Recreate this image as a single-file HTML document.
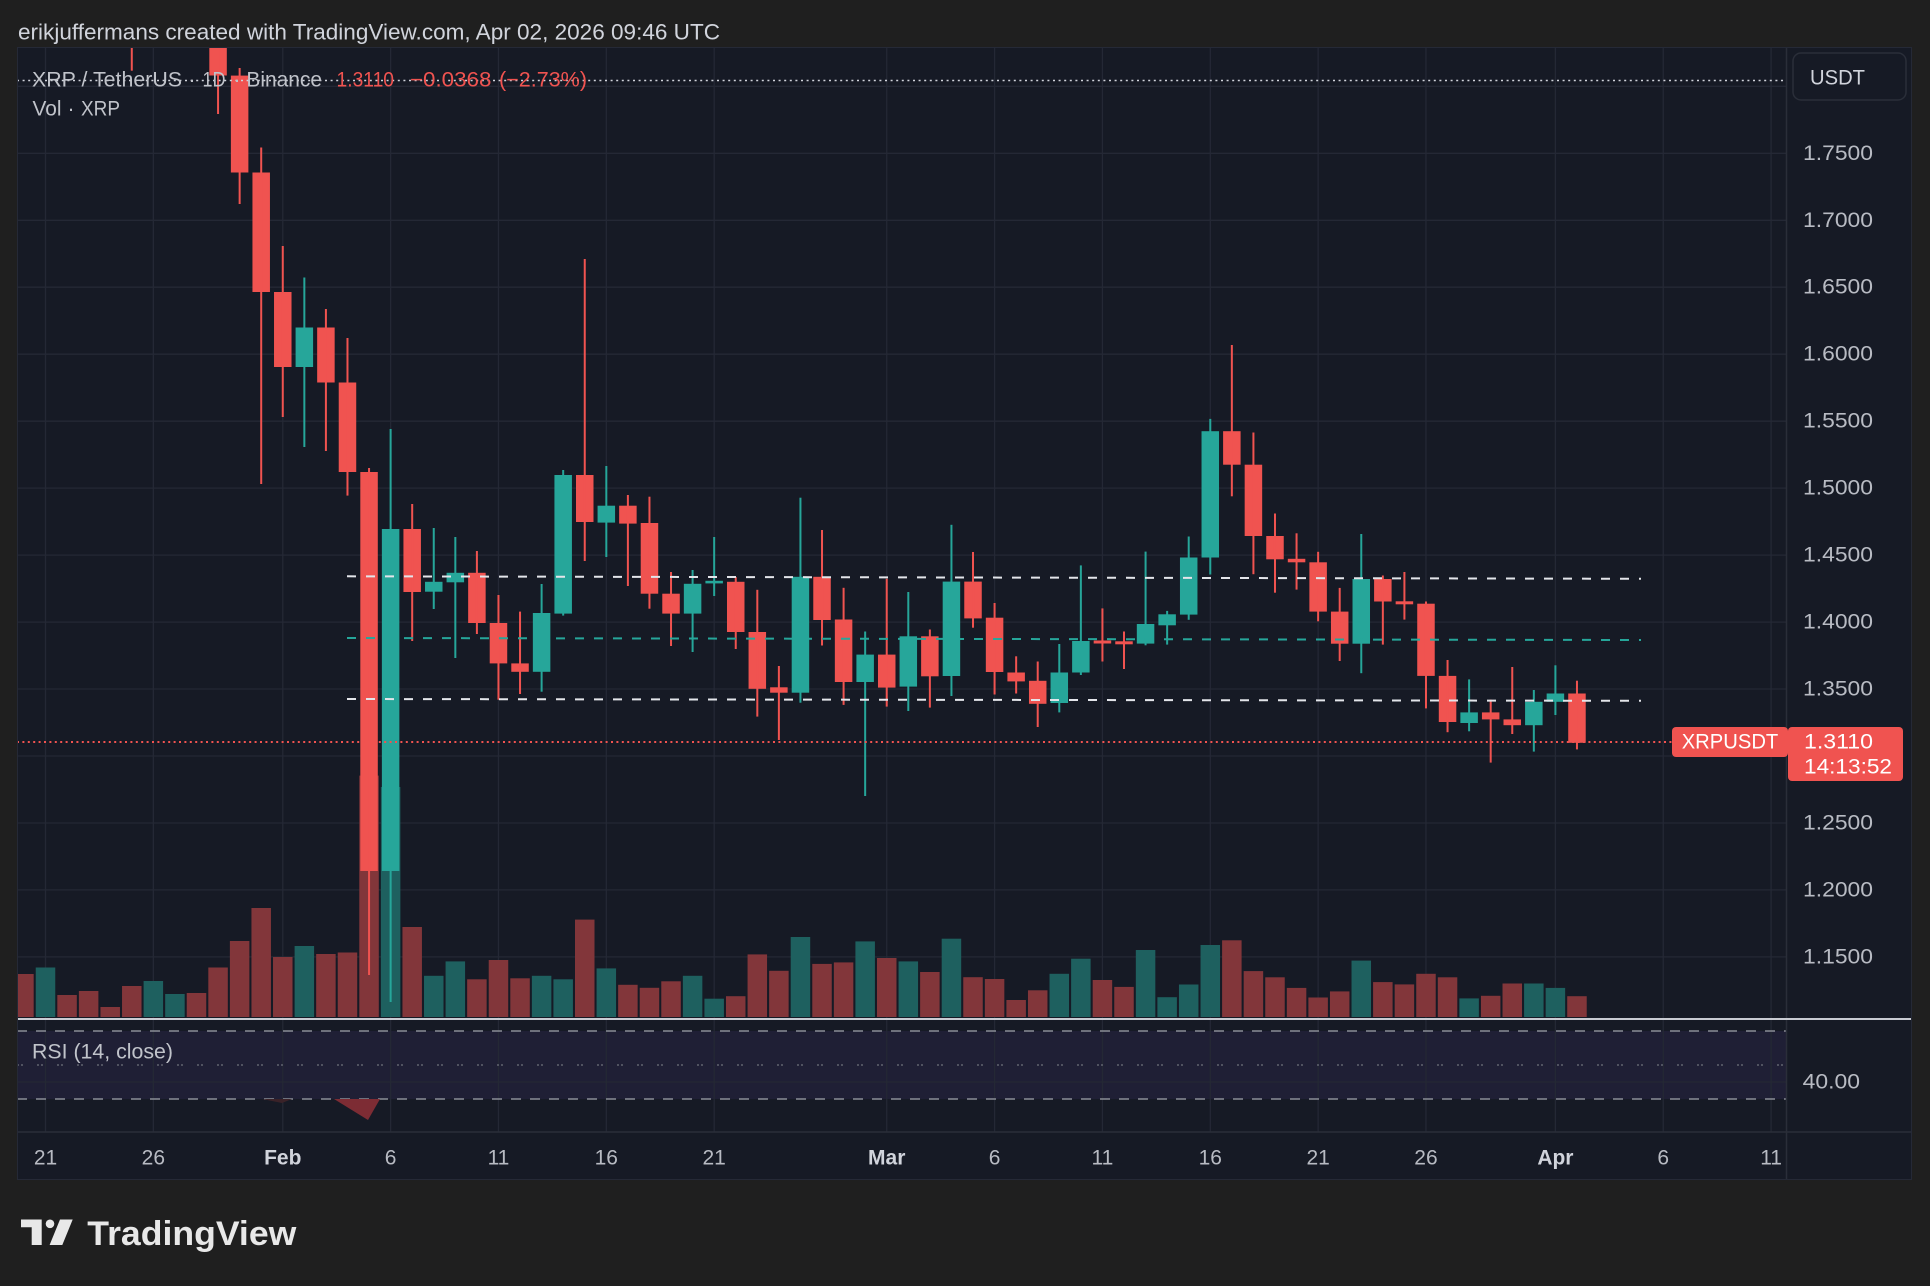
<!DOCTYPE html>
<html>
<head>
<meta charset="utf-8">
<style>
  html,body{margin:0;padding:0;background:#1f1f1f;}
  svg{display:block;}
</style>
</head>
<body>
<svg xmlns="http://www.w3.org/2000/svg" width="1930" height="1286" viewBox="0 0 1930 1286" font-family="'Liberation Sans', Arial, sans-serif">
  <rect width="1930" height="1286" fill="#1f1f1f"/>
  <text x="18" y="32" font-size="22" fill="#d1d4dc" dominant-baseline="central" textLength="702" lengthAdjust="spacingAndGlyphs">erikjuffermans created with TradingView.com, Apr 02, 2026 09:46 UTC</text>

  <!-- chart panel -->
  <rect x="17" y="47" width="1895" height="1133" fill="#161a25"/>
  <defs>
    <clipPath id="mc"><rect x="17" y="47" width="1769" height="971"/></clipPath>
    <clipPath id="rc"><rect x="17" y="1020" width="1769" height="112"/></clipPath>
  </defs>

  <!-- RSI band -->
  <rect x="17" y="1031" width="1769" height="68" fill="#1f1f35"/>

  <!-- grid -->
  <path d="M45.5 47V1132M153.35 47V1132M282.77 47V1132M390.62 47V1132M498.47 47V1132M606.32 47V1132M714.17 47V1132M886.73 47V1132M994.58 47V1132M1102.43 47V1132M1210.28 47V1132M1318.13 47V1132M1425.98 47V1132M1555.4 47V1132M1663.25 47V1132M1771.1 47V1132" stroke="#242835" stroke-width="1.3" fill="none"/>
  <path d="M17 86.3H1786M17 153.3H1786M17 220.3H1786M17 287.2H1786M17 354.2H1786M17 421.2H1786M17 488.1H1786M17 555.1H1786M17 622.1H1786M17 689H1786M17 756H1786M17 823H1786M17 889.9H1786M17 956.9H1786M17 1082H1786" stroke="#242835" stroke-width="1.3" fill="none"/>

  <g clip-path="url(#mc)">
    <!-- volume red -->
    <g fill="#82363a">
      <rect x="14.18" y="974" width="19.5" height="43"/>
      <rect x="57.32" y="995" width="19.5" height="22"/>
      <rect x="78.89" y="991" width="19.5" height="26"/>
      <rect x="100.46" y="1007" width="19.5" height="10"/>
      <rect x="122.03" y="986" width="19.5" height="31"/>
      <rect x="186.74" y="993" width="19.5" height="24"/>
      <rect x="208.31" y="967.5" width="19.5" height="49.5"/>
      <rect x="229.88" y="941" width="19.5" height="76"/>
      <rect x="251.45" y="908" width="19.5" height="109"/>
      <rect x="273.02" y="957" width="19.5" height="60"/>
      <rect x="316.16" y="954" width="19.5" height="63"/>
      <rect x="337.73" y="952.5" width="19.5" height="64.5"/>
      <rect x="359.3" y="775.6" width="19.5" height="241.4"/>
      <rect x="402.44" y="927" width="19.5" height="90"/>
      <rect x="467.15" y="979.3" width="19.5" height="37.7"/>
      <rect x="488.72" y="960" width="19.5" height="57"/>
      <rect x="510.29" y="978.3" width="19.5" height="38.7"/>
      <rect x="575" y="919.6" width="19.5" height="97.4"/>
      <rect x="618.14" y="984.8" width="19.5" height="32.2"/>
      <rect x="639.71" y="987.8" width="19.5" height="29.2"/>
      <rect x="661.28" y="981.3" width="19.5" height="35.7"/>
      <rect x="725.99" y="996.2" width="19.5" height="20.8"/>
      <rect x="747.56" y="954.4" width="19.5" height="62.6"/>
      <rect x="769.13" y="970.8" width="19.5" height="46.2"/>
      <rect x="812.27" y="963.9" width="19.5" height="53.1"/>
      <rect x="833.84" y="962.4" width="19.5" height="54.6"/>
      <rect x="876.98" y="958" width="19.5" height="59"/>
      <rect x="920.12" y="972" width="19.5" height="45"/>
      <rect x="963.26" y="977.2" width="19.5" height="39.8"/>
      <rect x="984.83" y="979" width="19.5" height="38"/>
      <rect x="1006.4" y="1000" width="19.5" height="17"/>
      <rect x="1027.97" y="990.3" width="19.5" height="26.7"/>
      <rect x="1092.68" y="980" width="19.5" height="37"/>
      <rect x="1114.25" y="986.9" width="19.5" height="30.1"/>
      <rect x="1222.1" y="940.3" width="19.5" height="76.7"/>
      <rect x="1243.67" y="971.1" width="19.5" height="45.9"/>
      <rect x="1265.24" y="977.3" width="19.5" height="39.7"/>
      <rect x="1286.81" y="987.9" width="19.5" height="29.1"/>
      <rect x="1308.38" y="997.5" width="19.5" height="19.5"/>
      <rect x="1329.95" y="991.4" width="19.5" height="25.6"/>
      <rect x="1373.09" y="982.1" width="19.5" height="34.9"/>
      <rect x="1394.66" y="984.4" width="19.5" height="32.6"/>
      <rect x="1416.23" y="973.8" width="19.5" height="43.2"/>
      <rect x="1437.8" y="977.3" width="19.5" height="39.7"/>
      <rect x="1480.94" y="995.8" width="19.5" height="21.2"/>
      <rect x="1502.51" y="983.5" width="19.5" height="33.5"/>
      <rect x="1567.22" y="996.2" width="19.5" height="20.8"/>
    </g>
    <!-- volume green -->
    <g fill="#1e605f">
      <rect x="35.75" y="967.5" width="19.5" height="49.5"/>
      <rect x="143.6" y="981" width="19.5" height="36"/>
      <rect x="165.17" y="994" width="19.5" height="23"/>
      <rect x="294.59" y="946" width="19.5" height="71"/>
      <rect x="380.87" y="787" width="19.5" height="230"/>
      <rect x="424.01" y="975.8" width="19.5" height="41.2"/>
      <rect x="445.58" y="961.4" width="19.5" height="55.6"/>
      <rect x="531.86" y="975.8" width="19.5" height="41.2"/>
      <rect x="553.43" y="979.3" width="19.5" height="37.7"/>
      <rect x="596.57" y="968.4" width="19.5" height="48.6"/>
      <rect x="682.85" y="975.8" width="19.5" height="41.2"/>
      <rect x="704.42" y="998.7" width="19.5" height="18.3"/>
      <rect x="790.7" y="937" width="19.5" height="80"/>
      <rect x="855.41" y="941.4" width="19.5" height="75.6"/>
      <rect x="898.55" y="961.4" width="19.5" height="55.6"/>
      <rect x="941.69" y="938.7" width="19.5" height="78.3"/>
      <rect x="1049.54" y="973.8" width="19.5" height="43.2"/>
      <rect x="1071.11" y="958.7" width="19.5" height="58.3"/>
      <rect x="1135.82" y="950" width="19.5" height="67"/>
      <rect x="1157.39" y="997.2" width="19.5" height="19.8"/>
      <rect x="1178.96" y="984.5" width="19.5" height="32.5"/>
      <rect x="1200.53" y="945" width="19.5" height="72"/>
      <rect x="1351.52" y="960.6" width="19.5" height="56.4"/>
      <rect x="1459.37" y="998.4" width="19.5" height="18.6"/>
      <rect x="1524.08" y="983.5" width="19.5" height="33.5"/>
      <rect x="1545.65" y="987.9" width="19.5" height="29.1"/>
    </g>

    <!-- red candles -->
    <g fill="#f05350">
      <rect x="130.78" y="0" width="2" height="70.7"/>
      <rect x="209.31" y="0" width="17.5" height="75.5"/><rect x="217.06" y="0" width="2" height="114"/>
      <rect x="230.88" y="75.6" width="17.5" height="96.9"/><rect x="238.63" y="68" width="2" height="136"/>
      <rect x="252.45" y="172.5" width="17.5" height="119.5"/><rect x="260.2" y="147.5" width="2" height="336.5"/>
      <rect x="274.02" y="292" width="17.5" height="75"/><rect x="281.77" y="246" width="2" height="171"/>
      <rect x="317.16" y="327.5" width="17.5" height="55"/><rect x="324.91" y="309" width="2" height="142"/>
      <rect x="338.73" y="382.5" width="17.5" height="89.5"/><rect x="346.48" y="338" width="2" height="157.6"/>
      <rect x="360.3" y="472" width="17.5" height="399"/><rect x="368.05" y="468" width="2" height="507"/>
      <rect x="403.44" y="529" width="17.5" height="63"/><rect x="411.19" y="504" width="2" height="137"/>
      <rect x="468.15" y="572.8" width="17.5" height="50.2"/><rect x="475.9" y="551" width="2" height="83"/>
      <rect x="489.72" y="623" width="17.5" height="40.4"/><rect x="497.47" y="595" width="2" height="104.7"/>
      <rect x="511.29" y="663.4" width="17.5" height="8.4"/><rect x="519.04" y="611.6" width="2" height="82.4"/>
      <rect x="576" y="475" width="17.5" height="47"/><rect x="583.75" y="259" width="2" height="302"/>
      <rect x="619.14" y="505.7" width="17.5" height="17.9"/><rect x="626.89" y="495" width="2" height="91"/>
      <rect x="640.71" y="523" width="17.5" height="70.7"/><rect x="648.46" y="496.7" width="2" height="112"/>
      <rect x="662.28" y="593.7" width="17.5" height="19.9"/><rect x="670.03" y="572" width="2" height="74"/>
      <rect x="726.99" y="581.8" width="17.5" height="50.2"/><rect x="734.74" y="577" width="2" height="72"/>
      <rect x="748.56" y="632" width="17.5" height="56.8"/><rect x="756.31" y="589.8" width="2" height="126.8"/>
      <rect x="770.13" y="687.3" width="17.5" height="5.4"/><rect x="777.88" y="666" width="2" height="74"/>
      <rect x="813.27" y="576.8" width="17.5" height="43.2"/><rect x="821.02" y="530" width="2" height="115.5"/>
      <rect x="834.84" y="619.5" width="17.5" height="62.5"/><rect x="842.59" y="587.8" width="2" height="117.1"/>
      <rect x="877.98" y="654.6" width="17.5" height="33"/><rect x="885.73" y="578.8" width="2" height="127.8"/>
      <rect x="921.12" y="636.3" width="17.5" height="40"/><rect x="928.87" y="629.5" width="2" height="78.1"/>
      <rect x="964.26" y="581.6" width="17.5" height="36.8"/><rect x="972.01" y="552" width="2" height="75.7"/>
      <rect x="985.83" y="617.7" width="17.5" height="54.3"/><rect x="993.58" y="603" width="2" height="91.5"/>
      <rect x="1007.4" y="672.5" width="17.5" height="8.9"/><rect x="1015.15" y="656.3" width="2" height="37.2"/>
      <rect x="1028.97" y="680.8" width="17.5" height="23"/><rect x="1036.72" y="661.5" width="2" height="65.5"/>
      <rect x="1093.68" y="640.5" width="17.5" height="3"/><rect x="1101.43" y="608.4" width="2" height="53.1"/>
      <rect x="1115.25" y="641.3" width="17.5" height="3"/><rect x="1123" y="631.5" width="2" height="37.5"/>
      <rect x="1223.1" y="431.2" width="17.5" height="33.5"/><rect x="1230.85" y="345" width="2" height="151.3"/>
      <rect x="1244.67" y="464.7" width="17.5" height="71.3"/><rect x="1252.42" y="432.5" width="2" height="141.7"/>
      <rect x="1266.24" y="536" width="17.5" height="23.3"/><rect x="1273.99" y="513.5" width="2" height="79.2"/>
      <rect x="1287.81" y="558.8" width="17.5" height="3.5"/><rect x="1295.56" y="533.3" width="2" height="56.3"/>
      <rect x="1309.38" y="562.3" width="17.5" height="49.3"/><rect x="1317.13" y="551.8" width="2" height="69.5"/>
      <rect x="1330.95" y="611.6" width="17.5" height="32.1"/><rect x="1338.7" y="587.9" width="2" height="73.1"/>
      <rect x="1374.09" y="579" width="17.5" height="22.5"/><rect x="1381.84" y="575.5" width="2" height="69.1"/>
      <rect x="1395.66" y="601.3" width="17.5" height="3"/><rect x="1403.41" y="572" width="2" height="47.6"/>
      <rect x="1417.23" y="603.7" width="17.5" height="72.2"/><rect x="1424.98" y="601.5" width="2" height="106.9"/>
      <rect x="1438.8" y="675.9" width="17.5" height="46.1"/><rect x="1446.55" y="660" width="2" height="72.2"/>
      <rect x="1481.94" y="712.4" width="17.5" height="7"/><rect x="1489.69" y="699.6" width="2" height="63"/>
      <rect x="1503.51" y="719.4" width="17.5" height="5.8"/><rect x="1511.26" y="667" width="2" height="67"/>
      <rect x="1568.22" y="693.5" width="17.5" height="49.3"/><rect x="1575.97" y="680.7" width="2" height="68.7"/>
    </g>
    <!-- green candles -->
    <g fill="#26a69a">
      <rect x="295.59" y="327.5" width="17.5" height="39.5"/><rect x="303.34" y="277.5" width="2" height="169.5"/>
      <rect x="381.87" y="529" width="17.5" height="342"/><rect x="389.62" y="429" width="2" height="573"/>
      <rect x="425.01" y="581.8" width="17.5" height="9.9"/><rect x="432.76" y="528" width="2" height="81"/>
      <rect x="446.58" y="572.8" width="17.5" height="9.5"/><rect x="454.33" y="537" width="2" height="121"/>
      <rect x="532.86" y="613" width="17.5" height="58.8"/><rect x="540.61" y="584" width="2" height="107.7"/>
      <rect x="554.43" y="475" width="17.5" height="138.6"/><rect x="562.18" y="470" width="2" height="145.6"/>
      <rect x="597.57" y="505.7" width="17.5" height="16.9"/><rect x="605.32" y="466" width="2" height="91"/>
      <rect x="683.85" y="583.8" width="17.5" height="29.8"/><rect x="691.6" y="570" width="2" height="82"/>
      <rect x="705.42" y="580.8" width="17.5" height="2.6"/><rect x="713.17" y="537" width="2" height="59"/>
      <rect x="791.7" y="576.8" width="17.5" height="115.9"/><rect x="799.45" y="497.7" width="2" height="205"/>
      <rect x="856.41" y="654.6" width="17.5" height="27.4"/><rect x="864.16" y="631.5" width="2" height="164.5"/>
      <rect x="899.55" y="636.3" width="17.5" height="50.3"/><rect x="907.3" y="592" width="2" height="119"/>
      <rect x="942.69" y="581.6" width="17.5" height="94.4"/><rect x="950.44" y="524.8" width="2" height="171.2"/>
      <rect x="1050.54" y="672.5" width="17.5" height="30.5"/><rect x="1058.29" y="644" width="2" height="68.4"/>
      <rect x="1072.11" y="641" width="17.5" height="31.5"/><rect x="1079.86" y="565.4" width="2" height="109.6"/>
      <rect x="1136.82" y="624" width="17.5" height="19.6"/><rect x="1144.57" y="551.6" width="2" height="93.7"/>
      <rect x="1158.39" y="614.3" width="17.5" height="11"/><rect x="1166.14" y="610.9" width="2" height="33.7"/>
      <rect x="1179.96" y="557.5" width="17.5" height="57.1"/><rect x="1187.71" y="536.5" width="2" height="83.3"/>
      <rect x="1201.53" y="431.2" width="17.5" height="126.3"/><rect x="1209.28" y="418.9" width="2" height="155.6"/>
      <rect x="1352.52" y="579" width="17.5" height="64.7"/><rect x="1360.27" y="534" width="2" height="139.2"/>
      <rect x="1460.37" y="712.4" width="17.5" height="10.6"/><rect x="1468.12" y="679.4" width="2" height="51.9"/>
      <rect x="1525.08" y="701.8" width="17.5" height="23.4"/><rect x="1532.83" y="690" width="2" height="61.6"/>
      <rect x="1546.65" y="693.5" width="17.5" height="8.3"/><rect x="1554.4" y="665.3" width="2" height="49.7"/>
    </g>

    <!-- channel lines -->
    <line x1="347" y1="576.3" x2="1641" y2="578.8" stroke="#e3e5ea" stroke-width="2" stroke-dasharray="9,10"/>
    <line x1="347" y1="638" x2="1641" y2="640" stroke="#26a69a" stroke-width="2" stroke-dasharray="9,10"/>
    <line x1="347" y1="699" x2="1641" y2="700.8" stroke="#e3e5ea" stroke-width="2" stroke-dasharray="9,10"/>

    <!-- top dotted line -->
    <line x1="17" y1="80.5" x2="1783" y2="80.5" stroke="#d1d4dc" stroke-width="1.6" stroke-dasharray="2,3.6"/>
    <!-- current price dotted line -->
    <line x1="17" y1="742" x2="1672" y2="742" stroke="#f05350" stroke-width="2" stroke-dasharray="2,3.4"/>
  </g>

  <!-- RSI pane -->
  <g clip-path="url(#rc)">
    <line x1="17" y1="1031" x2="1786" y2="1031" stroke="#8a8d96" stroke-width="1.6" stroke-dasharray="10,9"/>
    <line x1="17" y1="1099" x2="1786" y2="1099" stroke="#8a8d96" stroke-width="1.6" stroke-dasharray="10,9"/>
    <line x1="17" y1="1065" x2="1786" y2="1065" stroke="#6d707a" stroke-width="1.2" stroke-dasharray="2,2,2,14"/>
    <polygon points="262,1099 292,1099 282,1103" fill="#3a2228"/>
    <polygon points="334,1099 380,1099 368,1120" fill="#7d2c34"/>
  </g>

  <!-- separators -->
  <line x1="1786.5" y1="47" x2="1786.5" y2="1180" stroke="#2a2e39" stroke-width="1.5"/>
  <line x1="17" y1="1132" x2="1912" y2="1132" stroke="#2a2e39" stroke-width="1.5"/>
  <line x1="17" y1="1019" x2="1912" y2="1019" stroke="#c8cbd2" stroke-width="2"/>
  <rect x="17.5" y="47.5" width="1894" height="1132" fill="none" stroke="#252936" stroke-width="1"/>

  <!-- legend -->
  <g font-size="21" dominant-baseline="central">
    <text x="32" y="80" fill="#c0c3ca" textLength="150" lengthAdjust="spacingAndGlyphs">XRP / TetherUS</text>
    <text x="192" y="80" fill="#c0c3ca" text-anchor="middle">·</text>
    <text x="202.5" y="80" fill="#c0c3ca" textLength="23" lengthAdjust="spacingAndGlyphs">1D</text>
    <text x="237" y="80" fill="#c0c3ca" text-anchor="middle">·</text>
    <text x="246.4" y="80" fill="#c0c3ca" textLength="75.6" lengthAdjust="spacingAndGlyphs">Binance</text>
    <text x="336.5" y="80" fill="#f05350" textLength="57.5" lengthAdjust="spacingAndGlyphs">1.3110</text>
    <text x="410" y="80" fill="#f05350" textLength="81.4" lengthAdjust="spacingAndGlyphs">−0.0368</text>
    <text x="499" y="80" fill="#f05350" textLength="88" lengthAdjust="spacingAndGlyphs">(−2.73%)</text>
    <text x="32.5" y="109" fill="#c0c3ca" textLength="29" lengthAdjust="spacingAndGlyphs">Vol</text>
    <text x="71" y="109" fill="#c0c3ca" text-anchor="middle">·</text>
    <text x="81" y="109" fill="#c0c3ca" textLength="39" lengthAdjust="spacingAndGlyphs">XRP</text>
    <text x="32" y="1052" fill="#c0c3ca" textLength="141" lengthAdjust="spacingAndGlyphs">RSI (14, close)</text>
  </g>

  <!-- price axis -->
  <rect x="1793" y="53" width="113" height="47" rx="8" fill="#161a25" stroke="#2a2e39" stroke-width="1.5"/>
  <g font-size="21" dominant-baseline="central" fill="#b8bbc3">
    <text x="1810" y="78" fill="#d1d4dc" textLength="55" lengthAdjust="spacingAndGlyphs">USDT</text>
    <text x="1803" y="153.3" textLength="70" lengthAdjust="spacingAndGlyphs">1.7500</text>
    <text x="1803" y="220.3" textLength="70" lengthAdjust="spacingAndGlyphs">1.7000</text>
    <text x="1803" y="287.2" textLength="70" lengthAdjust="spacingAndGlyphs">1.6500</text>
    <text x="1803" y="354.2" textLength="70" lengthAdjust="spacingAndGlyphs">1.6000</text>
    <text x="1803" y="421.2" textLength="70" lengthAdjust="spacingAndGlyphs">1.5500</text>
    <text x="1803" y="488.1" textLength="70" lengthAdjust="spacingAndGlyphs">1.5000</text>
    <text x="1803" y="555.1" textLength="70" lengthAdjust="spacingAndGlyphs">1.4500</text>
    <text x="1803" y="622.1" textLength="70" lengthAdjust="spacingAndGlyphs">1.4000</text>
    <text x="1803" y="689" textLength="70" lengthAdjust="spacingAndGlyphs">1.3500</text>
    <text x="1803" y="823" textLength="70" lengthAdjust="spacingAndGlyphs">1.2500</text>
    <text x="1803" y="889.9" textLength="70" lengthAdjust="spacingAndGlyphs">1.2000</text>
    <text x="1803" y="956.9" textLength="70" lengthAdjust="spacingAndGlyphs">1.1500</text>
    <text x="1802.6" y="1082" textLength="57.4" lengthAdjust="spacingAndGlyphs">40.00</text>
  </g>

  <!-- current price labels -->
  <rect x="1672" y="727" width="116" height="30" rx="4" fill="#f05350"/>
  <rect x="1788" y="727" width="115" height="54" rx="4" fill="#f05350"/>
  <g font-size="21" dominant-baseline="central" fill="#ffffff">
    <text x="1681.7" y="742" textLength="96.6" lengthAdjust="spacingAndGlyphs">XRPUSDT</text>
    <text x="1804" y="742" textLength="69" lengthAdjust="spacingAndGlyphs">1.3110</text>
    <text x="1804" y="767" textLength="88" lengthAdjust="spacingAndGlyphs">14:13:52</text>
  </g>

  <!-- time axis -->
  <g font-size="21" dominant-baseline="central" fill="#b8bbc3" text-anchor="middle">
    <text x="45.5" y="1158">21</text>
    <text x="153.35" y="1158">26</text>
    <text x="282.77" y="1158" font-weight="bold" fill="#d1d4dc">Feb</text>
    <text x="390.62" y="1158">6</text>
    <text x="498.47" y="1158">11</text>
    <text x="606.32" y="1158">16</text>
    <text x="714.17" y="1158">21</text>
    <text x="886.73" y="1158" font-weight="bold" fill="#d1d4dc">Mar</text>
    <text x="994.58" y="1158">6</text>
    <text x="1102.43" y="1158">11</text>
    <text x="1210.28" y="1158">16</text>
    <text x="1318.13" y="1158">21</text>
    <text x="1425.98" y="1158">26</text>
    <text x="1555.4" y="1158" font-weight="bold" fill="#d1d4dc">Apr</text>
    <text x="1663.25" y="1158">6</text>
    <text x="1771.1" y="1158">11</text>
  </g>

  <!-- TradingView logo -->
  <g fill="#e8e8e8">
    <path d="M21 1219.5H41.7V1245H31.7V1227.3H21Z"/>
    <circle cx="50" cy="1223.8" r="4.3"/>
    <polygon points="60,1219.5 72.7,1219.5 62.3,1245 49.6,1245"/>
    <text x="87.3" y="1245" font-size="34" font-weight="bold" textLength="209" lengthAdjust="spacingAndGlyphs">TradingView</text>
  </g>
</svg>
</body>
</html>
